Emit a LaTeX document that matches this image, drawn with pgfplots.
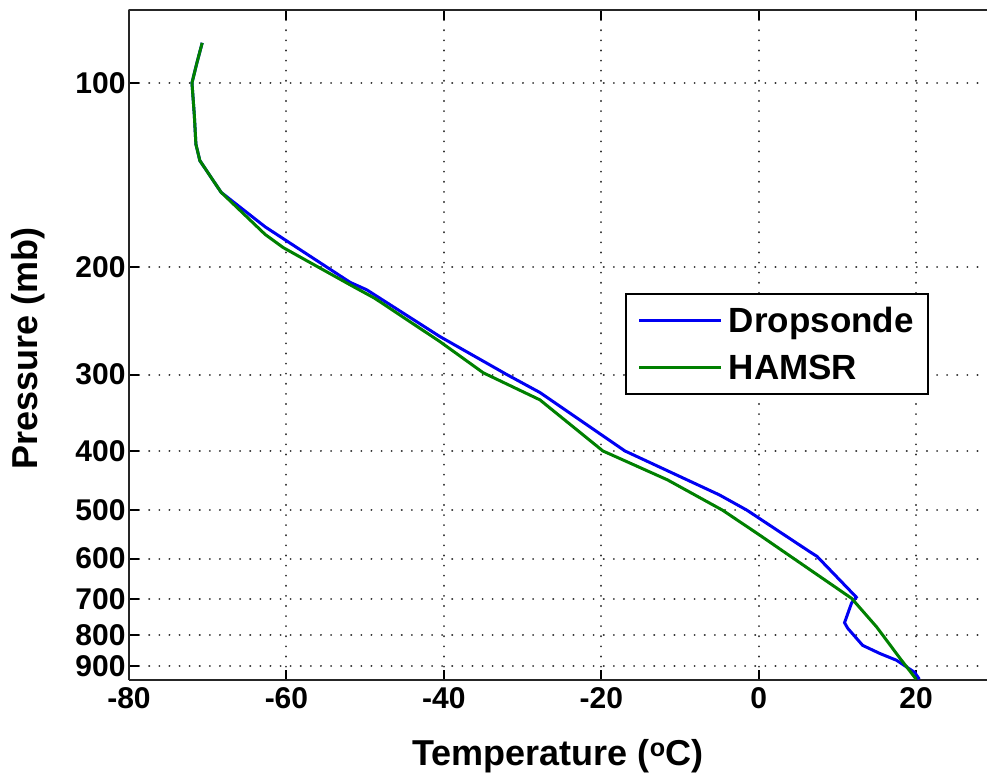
\documentclass[border=0pt]{standalone}
\usepackage{pgfplots}
\pgfplotsset{compat=1.18}
\usepackage{fontspec}
\setmainfont{Liberation Sans}

\definecolor{mblue}{rgb}{0,0,0.95}
\definecolor{mgreen}{rgb}{0,0.5,0}

\begin{document}
\begin{tikzpicture}
\useasboundingbox (0,0) rectangle (987pt,782pt);
\begin{axis}[
    at={(129pt,102pt)}, anchor=south west,
    scale only axis, width=858pt, height=670pt,
    font=\fontsize{30}{36}\selectfont\bfseries,
    /pgf/number format/assume math mode=true,
    xmin=-80, xmax=29,
    xtick={-80,-60,...,20},
    ymode=log, y dir=reverse,
    ymin=76, ymax=948,
    ytick={100,200,300,400,500,600,700,800,900},
    yticklabels={100,200,300,400,500,600,700,800,900},
    minor y tick style={draw=none},
    axis y line*=left,
    tick align=inside,
    major tick length=10pt,
    tick style={black, line width=2pt},
    axis line style={black!85, line width=2pt},
    xticklabel style={yshift=-4pt},
    grid=major,
    major grid style={black!80, line width=2pt, line cap=round, dash pattern=on 0.1pt off 10pt},
    xlabel={Temperature (\textsuperscript{o}C)},
    ylabel={Pressure (mb)},
    label style={font=\fontsize{36}{43}\selectfont\bfseries},
    xlabel style={at={(axis description cs:0.5,-0.113)}, anchor=center},
    ylabel style={at={(axis description cs:-0.118,0.495)}, anchor=center},
    legend style={at={(0.578,0.578)}, anchor=north west,
        draw=black, line width=2pt, fill=white,
        font=\fontsize{35}{42}\selectfont\bfseries,
        inner xsep=12pt, inner ysep=11pt, row sep=17pt,
        /tikz/every odd column/.append style={column sep=4pt}},
    legend cell align=left,
    legend image code/.code={\draw[#1] (0pt,0pt) -- (82pt,0pt);},
]
\addplot[mblue, line width=3pt] coordinates {
(-70.7,86) (-71.4,93) (-72.0,100) (-71.7,113) (-71.5,126) (-71.0,134)
(-68.3,151) (-62.7,172) (-51.9,212) (-49.8,218) (-40.5,260) (-32.0,300)
(-27.8,321) (-17.0,400) (-5.0,472) (-1.5,500) (6.5,585)
(7.4,595) (12.4,694) (11.8,709) (10.9,764) (11.3,780) (13.2,832)
(15.4,858) (17.5,880) (19.8,921) (20.4,945)
};
\addlegendentry{Dropsonde}
\addplot[mgreen, line width=3pt] coordinates {
(-70.7,86) (-71.4,93) (-72.0,100) (-71.7,113) (-71.5,126) (-71.0,134)
(-68.3,151) (-62.7,177) (-60.4,186) (-51.9,214) (-48.8,225) (-40.5,265)
(-35.0,298) (-27.8,330) (-19.8,400) (-11.6,446) (-4.6,500) (0.1,549)
(11.8,697) (15.0,777) (17.9,872) (20.0,945)
};
\addlegendentry{HAMSR}
\end{axis}
\end{tikzpicture}
\end{document}
